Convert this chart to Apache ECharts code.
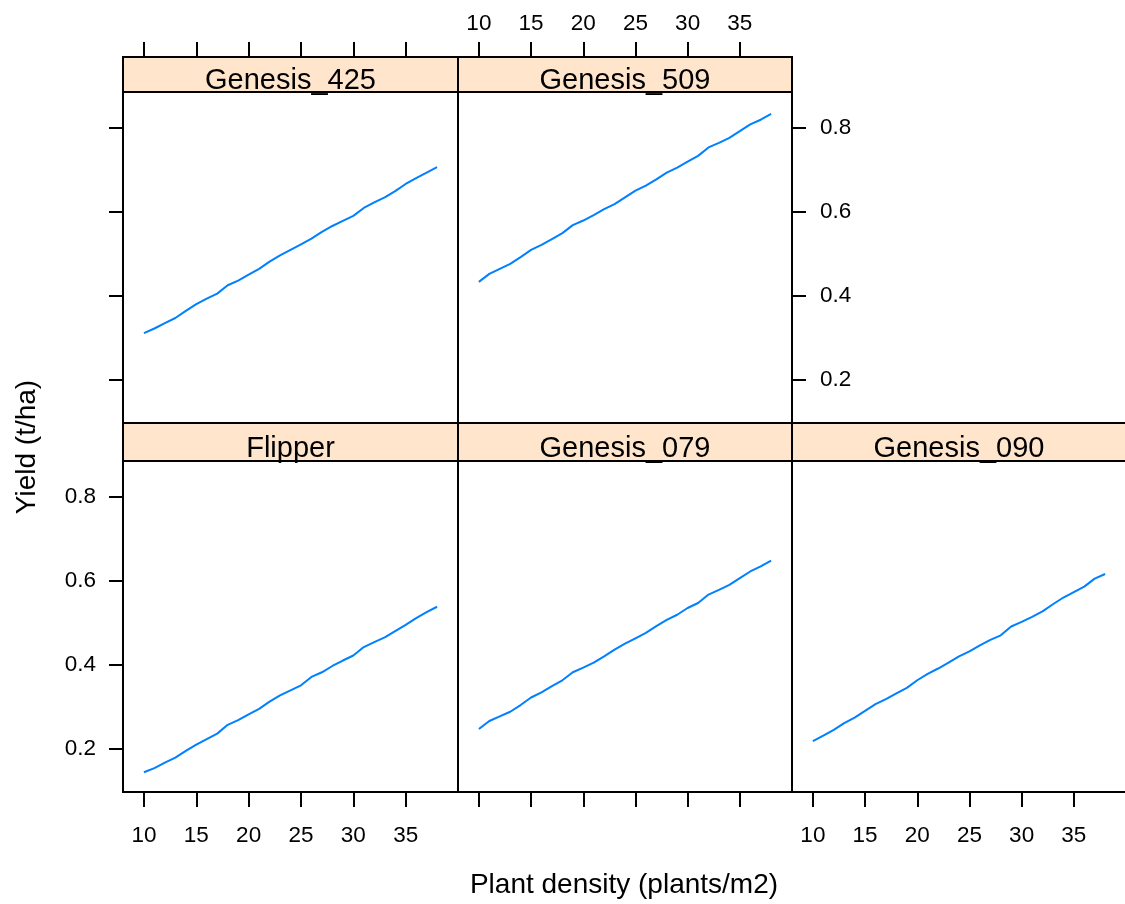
<!DOCTYPE html>
<html>
<head>
<meta charset="utf-8">
<script src="https://cdn.jsdelivr.net/npm/echarts@6/dist/echarts.min.js"></script>
<style>
html,body{margin:0;padding:0;background:#fff;}
#chart{width:1125px;height:904px;}
</style>
</head>
<body>
<div id="chart"></div>
<script>
const density = [10,11,12,13,14,15,16,17,18,19,20,21,22,23,24,25,26,27,28,29,30,31,32,33,34,35,36,37,38];
const yieldGenesis425 = [0.312,0.323,0.336,0.348,0.365,0.381,0.394,0.406,0.426,0.437,0.451,0.465,0.482,0.497,0.510,0.523,0.537,0.553,0.567,0.579,0.591,0.610,0.623,0.635,0.650,0.667,0.681,0.694,0.707];
const yieldGenesis509 = [0.434,0.453,0.465,0.477,0.493,0.510,0.522,0.536,0.550,0.569,0.580,0.593,0.607,0.619,0.635,0.651,0.663,0.678,0.694,0.706,0.720,0.734,0.754,0.765,0.777,0.793,0.809,0.820,0.834];
const yieldFlipper = [0.145,0.155,0.168,0.180,0.196,0.211,0.224,0.237,0.258,0.269,0.283,0.296,0.313,0.328,0.340,0.352,0.372,0.383,0.398,0.411,0.423,0.443,0.455,0.466,0.481,0.496,0.512,0.526,0.539];
const yieldGenesis079 = [0.248,0.267,0.278,0.289,0.305,0.323,0.335,0.350,0.364,0.383,0.394,0.406,0.421,0.437,0.451,0.464,0.477,0.493,0.508,0.520,0.536,0.548,0.568,0.579,0.591,0.607,0.623,0.635,0.649];
const yieldGenesis090 = [0.219,0.232,0.246,0.262,0.275,0.291,0.307,0.319,0.333,0.346,0.364,0.379,0.392,0.406,0.421,0.433,0.447,0.460,0.471,0.492,0.503,0.515,0.528,0.545,0.561,0.574,0.587,0.606,0.617];
const panelNames = ['Genesis_425','Genesis_509','Flipper','Genesis_079','Genesis_090'];
const panelValues = [yieldGenesis425, yieldGenesis509, yieldFlipper, yieldGenesis079, yieldGenesis090];
const xTickValues = [10,15,20,25,30,35];
const yTickValues = [0.2,0.4,0.6,0.8];
const xTitle = 'Plant density (plants/m2)';
const yTitle = 'Yield (t/ha)';

const FONT = '"Liberation Sans", Arial, Helvetica, sans-serif';
const X_MIN = 8, X_MAX = 40, Y_MIN = 0.098, Y_MAX = 0.886;
const STRIP_COLOR = '#ffe5cc';
const LINE_COLOR = '#0080ff';

// panel layout: [left, top, width, height]
const layout = [
  [123, 92, 335, 331],
  [458, 92, 334, 331],
  [123, 461, 335, 331],
  [458, 461, 334, 331],
  [792, 461, 334, 331]
];
const stripH = [35, 35, 38, 38, 38];

const grids = layout.map(l => ({
  left: l[0], top: l[1], width: l[2], height: l[3],
  show: true, borderColor: '#000', borderWidth: 2, backgroundColor: 'transparent',
  containLabel: false, outerBoundsMode: 'none'
}));

function xAxis(i, position, showTicks, showLabels, offset) {
  return {
    type: 'value', gridIndex: i, min: X_MIN, max: X_MAX, position: position, offset: offset,
    axisLine: {show: false},
    splitLine: {show: false},
    axisTick: {show: showTicks, length: 15, inside: false, customValues: xTickValues, lineStyle: {color: '#000', width: 2}},
    axisLabel: {show: showLabels, customValues: xTickValues, margin: position === 'top' ? 22 : 32,
      color: '#000', fontSize: 22.5, fontFamily: FONT}
  };
}
function yAxis(i, position, showTicks, showLabels) {
  return {
    type: 'value', gridIndex: i, min: Y_MIN, max: Y_MAX, position: position,
    axisLine: {show: false},
    splitLine: {show: false},
    axisTick: {show: showTicks, length: 14, inside: false, customValues: yTickValues, lineStyle: {color: '#000', width: 2}},
    axisLabel: {show: showLabels, customValues: yTickValues, margin: position === 'right' ? 28 : 27,
      formatter: v => v.toFixed(1), color: '#000', fontSize: 22.5, fontFamily: FONT}
  };
}

const xAxes = [
  xAxis(0, 'top', true, false, 35),
  xAxis(1, 'top', true, true, 35),
  xAxis(2, 'bottom', true, true, 0),
  xAxis(3, 'bottom', true, false, 0),
  xAxis(4, 'bottom', true, true, 0)
];
const yAxes = [
  yAxis(0, 'left', true, false),
  yAxis(1, 'right', true, true),
  yAxis(2, 'left', true, true),
  yAxis(3, 'left', false, false),
  yAxis(4, 'left', false, false)
];

const series = panelValues.map((vals, i) => ({
  type: 'line', xAxisIndex: i, yAxisIndex: i,
  data: density.map((d, k) => [d, vals[k]]),
  showSymbol: false, symbol: 'none', smooth: false, silent: true,
  lineStyle: {color: LINE_COLOR, width: 2},
  animation: false
}));

const graphics = [];
layout.forEach((l, i) => {
  const h = stripH[i];
  graphics.push({
    type: 'rect', z: 10,
    shape: {x: l[0], y: l[1] - h, width: l[2], height: h},
    style: {fill: STRIP_COLOR, stroke: '#000', lineWidth: 2}
  });
  graphics.push({
    type: 'text', z: 200, zlevel: 1,
    x: l[0] + l[2] / 2, y: l[1] - h / 2 + (i < 2 ? 6 : 6.5),
    style: {text: panelNames[i], fill: '#000', fontSize: 29, fontFamily: FONT, align: 'center', verticalAlign: 'middle'}
  });
});
graphics.push({
  type: 'text', x: 624, y: 885,
  style: {text: xTitle, fill: '#000', fontSize: 28, fontFamily: FONT, align: 'center', verticalAlign: 'middle'}
});
graphics.push({
  type: 'text', x: 27, y: 447, rotation: Math.PI / 2,
  style: {text: yTitle, fill: '#000', fontSize: 28, fontFamily: FONT, align: 'center', verticalAlign: 'middle'}
});

const chart = echarts.init(document.getElementById('chart'), null, {renderer: 'canvas'});
chart.setOption({
  animation: false,
  backgroundColor: '#fff',
  grid: grids,
  xAxis: xAxes,
  yAxis: yAxes,
  series: series,
  graphic: graphics
});
</script>
</body>
</html>
